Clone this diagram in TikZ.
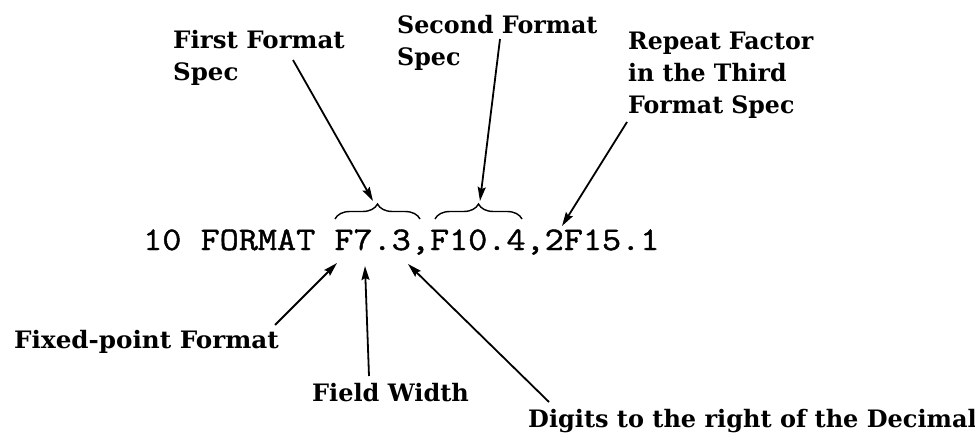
\documentclass[tikz,border=0pt]{standalone}
\usepackage{fontspec}
\setmainfont{DejaVu Serif}
\newfontfamily\codefont{Latin Modern Mono}[FakeBold=1.2]
\usetikzlibrary{arrows.meta,decorations.pathreplacing}

% label text: bold slab serif, width adjusted by a per-label factor
\newcommand{\lbl}[2]{\scalebox{#1}[1]{\begin{tabular}[t]{@{}l@{}}#2\end{tabular}}}
% typewriter statement, widened to the line-printer pitch
\newcommand{\codeline}[1]{\scalebox{1.125}[1]{#1}}

\tikzset{
  label text/.style={inner sep=0pt, anchor=base west,
    font=\fontsize{24}{32}\selectfont\bfseries},
  code text/.style={inner sep=0pt, anchor=base west,
    font=\fontsize{33}{36}\selectfont\codefont},
  pointer/.style={line width=1.8pt,
    -{Stealth[length=14pt,width=8pt,inset=2pt]}},
  spec brace/.style={line width=1.4pt,
    decorate, decoration={brace, amplitude=15pt}}
}

\begin{document}
\begin{tikzpicture}[x=1pt,y=-1pt]
\useasboundingbox (0,0) rectangle (975,433);

% the statement being explained
\node[code text] (code) at (143,250) {\codeline{10 FORMAT F7.3,F10.4,2F15.1}};

% labels above the statement
\node[label text] (first)  at (173,49) {\lbl{1.02}{First Format\\Spec}};
\node[label text] (second) at (397,34) {\lbl{0.99}{Second Format\\Spec}};
\node[label text] (repeat) at (628,50) {\lbl{0.985}{Repeat Factor\\in the Third\\Format Spec}};

% labels below the statement
\node[label text] (fixed)  at (14,348)  {\lbl{1.027}{Fixed-point Format}};
\node[label text] (width)  at (312,401) {\lbl{1}{Field Width}};
\node[label text] (digits) at (528,427) {\lbl{1}{Digits to the right of the Decimal}};

% braces grouping the first two format specs
\draw[spec brace] (335,219) coordinate (b1l) -- (420,219) coordinate (b1r);
\draw[spec brace] (435,219) coordinate (b2l) -- (522,219) coordinate (b2r);

% arrow ends
\coordinate (t1) at (293,60);   \coordinate (h1) at (373,201);
\coordinate (t2) at (500,39);   \coordinate (h2) at (480,201);
\coordinate (t3) at (627,122);  \coordinate (h3) at (562,226);
\coordinate (t4) at (275,325);  \coordinate (h4) at (337,263);
\coordinate (t5) at (369,376);  \coordinate (h5) at (365,266);
\coordinate (t6) at (549,402);  \coordinate (h6) at (408,264);

\draw[pointer] (t1) -- (h1);
\draw[pointer] (t2) -- (h2);
\draw[pointer] (t3) -- (h3);
\draw[pointer] (t4) -- (h4);
\draw[pointer] (t5) -- (h5);
\draw[pointer] (t6) -- (h6);
\end{tikzpicture}
\end{document}
